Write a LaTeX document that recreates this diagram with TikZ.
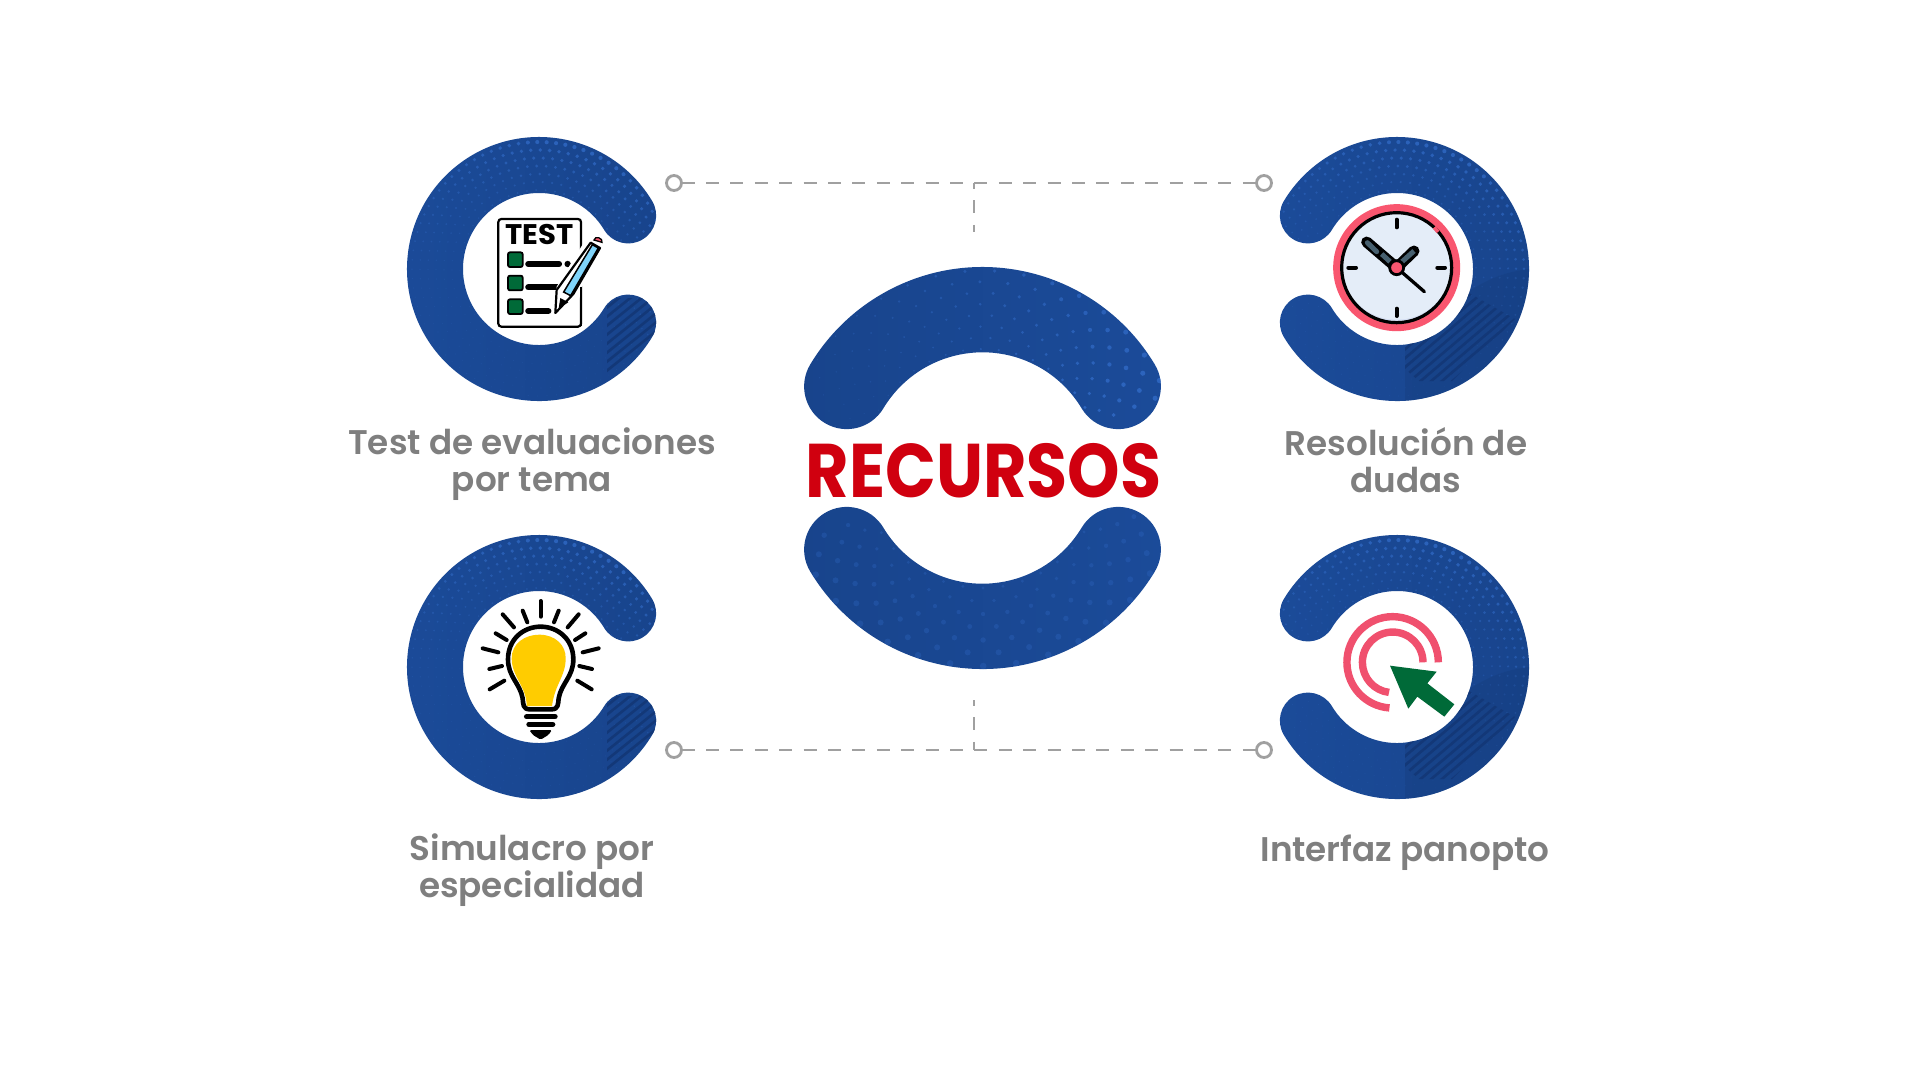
\documentclass[tikz,border=0pt]{standalone}
\usepackage{fontspec}
\setmainfont{Poppins}[BoldFont=Poppins Bold]
\newfontfamily\semifont{Poppins SemiBold}
\usetikzlibrary{calc}
\definecolor{cblue}{HTML}{18448C}
\definecolor{cbluel}{HTML}{1B4B99}
\definecolor{cdot}{HTML}{3069C4}
\definecolor{cstripe}{HTML}{133878}
\definecolor{lbl}{HTML}{7F7F7F}
\definecolor{dashc}{HTML}{A0A0A0}
\definecolor{pinkc}{HTML}{F0506E}
\definecolor{ringc}{HTML}{F9566F}
\definecolor{greenc}{HTML}{006A38}
\definecolor{facec}{HTML}{E4EDF8}
\definecolor{facesh}{HTML}{D4DEF2}
\definecolor{slatec}{HTML}{47606F}
\definecolor{yel}{HTML}{FFCC00}
\definecolor{penc}{HTML}{7FD4FA}
\definecolor{redt}{HTML}{D0000F}
% #1 centre, #2 inner R, #3 outer R, #4 start, #5 end
\newcommand{\ringpath}[5]{
  ($(#1)+(#4:#3)$) arc[start angle=#4,end angle=#5,radius=#3]
  arc[start angle=#5,delta angle=180,radius={(#3-#2)/2}]
  arc[start angle=#5,end angle=#4,radius=#2]
  arc[start angle={#4+180},delta angle=180,radius={(#3-#2)/2}] -- cycle}
% dots: #1 centre, #2 inner, #3 outer, #4 peak angle, #5 first angle, #6 last angle
\newcommand{\halftone}[6]{
  \foreach \ii in {0,...,6}{
    \pgfmathsetmacro{\rr}{#2+3+\ii*(#3-#2)/7}
    \pgfmathsetmacro{\stp}{540/\rr}
    \pgfmathsetmacro{\off}{mod(\ii,2)*\stp/2}
    \pgfmathsetmacro{\nn}{int((#6-#5)/\stp)}
    \foreach \jj in {0,...,\nn}{
      \pgfmathsetmacro{\aa}{#5+\off+\jj*\stp}
      \pgfmathsetmacro{\cc}{max(0.06,(cos(\aa-#4)+0.6)/1.6)}
      \pgfmathsetmacro{\ff}{\cc*(0.3+0.7*(\rr-#2)/(#3-#2))}
      \pgfmathsetmacro{\dd}{0.5+1.7*\ff}
      \pgfmathsetmacro{\oo}{0.16+0.7*\ff}
      \fill[cdot,opacity=\oo] ($(#1)+(\aa:\rr)$) circle[radius=\dd];
    }
  }
}
\newcommand{\leftC}[2]{
  \coordinate (cc) at (#1,-#2);
  \shade[left color=cbluel,right color=cblue] \ringpath{cc}{76}{132}{31}{329};
  \begin{scope}
    \clip \ringpath{cc}{76}{132}{31}{329};
    \halftone{cc}{76}{132}{72}{10}{350}
    \begin{scope}
      \clip ($(cc)+(68,-29)$) -- ($(cc)+(125,-29)$) -- ($(cc)+(125,-110)$) -- ($(cc)+(68,-110)$) -- cycle;
      \foreach \kk in {0,...,9}{
        \draw[cstripe,line width=2.6pt] ($(cc)+(60,{-108+\kk*9})$) -- ++(70,56);
      }
    \end{scope}
  \end{scope}
}
\newcommand{\rightC}[2]{
  \coordinate (cc) at (#1,-#2);
  \shade[left color=cbluel,right color=cblue] \ringpath{cc}{76}{132}{-149}{149};
  \begin{scope}
    \clip \ringpath{cc}{76}{132}{-149}{149};
    \halftone{cc}{76}{132}{70}{-170}{190}
    \fill[cblue!85!black,opacity=.3] ($(cc)+(132,0)$) .. controls ($(cc)+(90,-5)$) and ($(cc)+(60,-25)$) .. ($(cc)+(8,-80)$) -- ($(cc)+(8,-132)$) -- ($(cc)+(132,-132)$) -- cycle;
    \begin{scope}
      \clip ($(cc)+(8,-62)$) -- ($(cc)+(72,-24)$) -- ($(cc)+(118,-50)$) -- ($(cc)+(55,-112)$) -- ($(cc)+(22,-112)$) -- ($(cc)+(8,-100)$) -- cycle;
      \foreach \kk in {-2,...,14}{
        \draw[cstripe,line width=2.6pt] ($(cc)+(0,{-150+\kk*9})$) -- ++(130,110);
      }
    \end{scope}
  \end{scope}
}
\tikzset{
  lab/.style={text=lbl,font=\semifont\fontsize{34.2}{36.5}\selectfont,align=center,inner sep=0pt},
  pt/.style={circle,draw=dashc,line width=2.8pt,fill=white,minimum size=15pt,inner sep=0pt},
  dashl/.style={draw=dashc,line width=1.7pt,dash pattern=on 13pt off 11.4pt},
  zoomed/.style={x=0.33333pt,y=-0.33333pt},
  blk/.style={black,line cap=round,line join=round},
}
\begin{document}
\begin{tikzpicture}[x=1pt,y=1pt]
\useasboundingbox (0,-1080) rectangle (1920,0);
\fill[white] (0,-1080) rectangle (1920,0);

% connectors
\node[pt] (tl) at (674,-183) {};
\node[pt] (tr) at (1264,-183) {};
\node[pt] (bl) at (674,-750) {};
\node[pt] (br) at (1264,-750) {};
\coordinate (ts) at (974,-232);
\coordinate (bs) at (974,-700);
\coordinate (tm) at (974,-183);
\coordinate (bm) at (974,-750);
\draw[dashl,dash phase=1.3pt] (tl) -- (tr);
\draw[dashl,dash phase=1.3pt] (bl) -- (br);
\draw[dashl,dash phase=7pt] (tm) -- (ts);
\draw[dashl,dash phase=7pt] (bs) -- (bm);

% C shapes
\leftC{539}{269}
\rightC{1397}{269}
\leftC{539}{667}
\rightC{1397}{667}

% centre
\coordinate (mc) at (982.5,-468);
\shade[left color=cblue,right color=cbluel] \ringpath{mc}{115.7}{201}{31}{149};
\begin{scope}
  \clip \ringpath{mc}{115.7}{201}{31}{149};
  \foreach \ii in {0,...,7}{
    \pgfmathsetmacro{\rr}{119+\ii*11.2}
    \pgfmathsetmacro{\off}{mod(\ii,2)*4.3}
    \foreach \jj in {0,...,16}{
      \pgfmathsetmacro{\aa}{22+\off+\jj*8.6}
      \pgfmathsetmacro{\uu}{max(0,min(1,(160-\aa)/130))}
      \pgfmathsetmacro{\dd}{0.6+2.1*\uu*(0.5+0.5*\ii/7)}
      \pgfmathsetmacro{\oo}{0.2+0.65*\uu}
      \fill[cdot,opacity=\oo] ($(mc)+(\aa:\rr)$) circle[radius=\dd];
    }
  }
\end{scope}
\shade[left color=cblue,right color=cbluel] \ringpath{mc}{115.7}{201}{211}{329};
\begin{scope}
  \clip \ringpath{mc}{115.7}{201}{211}{329};
  \foreach \ii in {0,...,6}{
    \pgfmathsetmacro{\rr}{120+\ii*13}
    \pgfmathsetmacro{\off}{mod(\ii,2)*4.8}
    \foreach \jj in {0,...,14}{
      \pgfmathsetmacro{\aa}{203+\off+\jj*9.6}
      \fill[cdot,opacity=.32] ($(mc)+(\aa:\rr)$) circle[radius={1.6+\ii*0.28}];
    }
  }
\end{scope}
\node[text=redt,font=\bfseries\fontsize{76}{76}\selectfont,inner sep=0pt,anchor=base] (title) at (983.5,-497) {\scalebox{0.878}[1]{RECURSOS}};

% labels
\node[lab] (l1) at (532,-464) {Test de evaluaciones\\por tema};
\node[lab] (l2) at (1406,-460) {Resolución de\\dudas};
\node[lab] (l3) at (532,-870) {Simulacro por\\especialidad};
\node[lab,anchor=base] (l4) at (1405,-861) {Interfaz panopto};

% TEST icon
\begin{scope}[shift={(380,-110)},zoomed]
  \draw[fill=white,line width=2.2pt,rounded corners=3pt] (355,327) rectangle (603,650);
  \foreach \yy in {427,497,568}{
    \draw[fill=greenc,line width=1.8pt,rounded corners=2pt] (384,\yy) rectangle ++(44,44);
  }
  \draw[blk,line width=6.2pt] (445,462) -- (537,462);
  \fill (563,462) circle[radius=3.2pt];
  \draw[blk,line width=6.2pt] (445,532) -- (535,532);
  \draw[blk,line width=6.2pt] (445,603) -- (505,603);
  \fill[white] (610,400) -- (675,370) -- (675,430) -- (606,530) -- (590,600) -- (520,615) -- (530,530) -- cycle;
  \node[font=\bfseries\fontsize{27}{27}\selectfont,inner sep=0pt] (testt) at (478,373) {\scalebox{1.08}[1.05]{TEST}};
  \draw[line width=2.2pt] (603,530) -- (603,648);
  \draw[line width=2.2pt,line join=round,fill=white] (632,398) -- (660,414) -- (580,552) -- (526,609) -- (530,540) -- cycle;
  \fill[penc,draw=black,line width=1.5pt] (637,404) -- (655,414) -- (572,557) -- (551,546) -- cycle;
  \fill (536,595) -- (541,564) -- (565,577) -- cycle;
  \fill[ringc,draw=black,line width=1.3pt] (642,390) .. controls (645,375) and (670,385) .. (666,397) -- cycle;
\end{scope}

% clock icon
\begin{scope}[shift={(1260,-110)},zoomed]
  \coordinate (k) at (410,473);
  \fill[ringc] (k) circle[radius=63.5pt];
  \fill[facec] (k) circle[radius=55pt];
  \begin{scope}
    \clip (k) circle[radius=55pt];
    \fill[facesh] (k) circle[radius=56pt];
    \fill[facec] (410,464) circle[radius=55pt];
  \end{scope}
  \draw[line width=3.2pt] (k) circle[radius=55pt];
  \draw[ringc,line width=3.6pt] (523,352) -- (534,366);
  \foreach \a/\b/\c/\d in {410/329/410/352,410/596/410/618,265/473/288/473,532/473/555/473}{
    \draw[blk,line width=4pt] (\a,\b) -- (\c,\d);
  }
  \draw[blk,line width=11pt] (k) -- (320,396);
  \draw[blk,line width=11pt] (k) -- (462,423);
  \draw[slatec,line width=5pt,line cap=round] (350,425) -- (322,398);
  \draw[slatec,line width=5pt] (425,456) -- (462,423);
  \draw[slatec,line width=5pt] (390,455) -- (365,432);
  \draw[blk,line width=3.3pt] (k) -- (493,545);
  \fill[ringc,draw=black,line width=2.8pt] (k) circle[radius=7pt];
\end{scope}

% bulb icon
\begin{scope}[shift={(380,-520)},zoomed]
  \foreach \a/\b/\c/\d in {482/243/482/290,428/272/442/307,536/272/522/307,368/283/402/322,596/283/563/322,347/340/380/360,616/340/585/360,308/385/355/397,656/385/608/397,328/447/366/438,636/447/598/438,329/508/373/482,635/508/592/482}{
    \draw[blk,line width=4pt] (\a,\b) -- (\c,\d);
  }
  \draw[line width=4.6pt,fill=white,line join=round] (450,568) .. controls (428,568) and (430,552) .. (428,535) .. controls (420,490) and (384,470) .. (384,418)
     .. controls (384,358) and (430,320) .. (482,320) .. controls (534,320) and (580,358) .. (580,418)
     .. controls (580,470) and (544,490) .. (536,535) .. controls (534,552) and (536,568) .. (514,568) -- cycle;
  \fill[yel] (440,558) .. controls (440,500) and (395,470) .. (395,415) .. controls (395,370) and (435,344) .. (478,344) .. controls (525,344) and (558,375) .. (557,415)
     .. controls (557,470) and (525,490) .. (516,558) -- cycle;
  \draw[blk,line width=5.4pt] (440,590) -- (525,590);
  \draw[blk,line width=5.4pt] (447,613) -- (518,613);
  \fill[rounded corners=1.5pt] (448,630) -- (516,630) -- (505,645) -- (482,659) -- (459,645) -- cycle;
\end{scope}

% click icon
\begin{scope}[shift={(1260,-520)},zoomed]
  \coordinate (p) at (398,427);
  \coordinate (pa) at (535,427);
  \coordinate (pb) at (489,427);
  \draw[pinkc,line width=7.4pt] (pa) arc[start angle=0,end angle=266,radius=45.7pt];
  \draw[pinkc,line width=7.4pt] (pb) arc[start angle=0,end angle=263,radius=30.3pt];
  \fill[greenc] (390,437) -- (530,455) -- (502,490) -- (583,553) -- (553,590) -- (472,530) -- (445,566) -- cycle;
\end{scope}
\end{tikzpicture}
\end{document}
